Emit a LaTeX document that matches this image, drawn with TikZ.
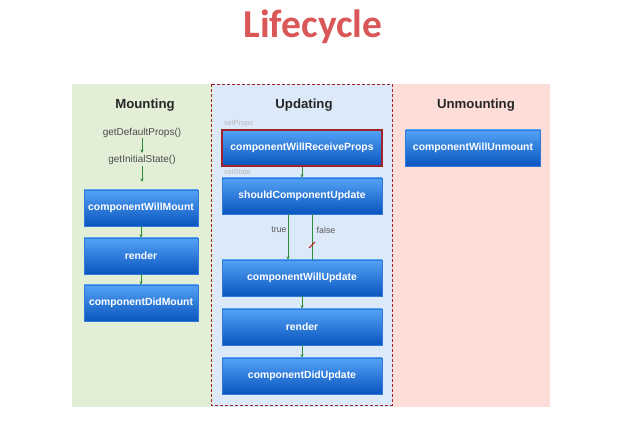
\documentclass[tikz,border=0pt]{standalone}
\usepackage{fontspec}
\setmainfont{Liberation Sans}
\newfontfamily\titlefont{Carlito}
\usetikzlibrary{arrows.meta}
\definecolor{mgreen}{HTML}{E3EED6}
\definecolor{ublue}{HTML}{DCE9F8}
\definecolor{upink}{HTML}{FCDDD8}
\definecolor{boxtop}{HTML}{54A2F6}
\definecolor{boxbot}{HTML}{0A55BE}
\definecolor{boxedge}{HTML}{2F7AD8}
\definecolor{titlered}{HTML}{D95757}
\definecolor{dashred}{HTML}{A0222A}
\definecolor{arrgreen}{HTML}{2E8B3A}
\tikzset{
  x=1pt,y=-1pt,
  lcbox/.style={rectangle, minimum height=36pt, top color=boxtop, bottom color=boxbot, draw=boxedge, line width=0.4pt, text=white, font=\bfseries\fontsize{10.4}{12}\selectfont, inner sep=0pt},
  header/.style={font=\bfseries\fontsize{13.2}{15}\selectfont, text=black!85},
  fnlabel/.style={font=\fontsize{10}{12}\selectfont, text=black!70},
  small/.style={font=\fontsize{7.3}{8}\selectfont, text=black!28, anchor=west, inner sep=0pt},
  flow/.style={-{Stealth[length=3.5pt,width=3pt]}, arrgreen, line width=0.7pt},
  tf/.style={font=\fontsize{8.8}{10}\selectfont, text=black!65}
}
\begin{document}
\begin{tikzpicture}
\useasboundingbox (0,0) rectangle (630,427);
\fill[white] (0,0) rectangle (630,427);
% panels
\fill[mgreen] (72,84) rectangle (213,407);
\fill[ublue] (213,84) rectangle (392,407);
\fill[upink] (392,84) rectangle (550,407);
\draw[dashred, line width=0.8pt, dash pattern=on 3pt off 2pt] (211,84) rectangle (392,405);
% title
\node[font=\titlefont\bfseries\fontsize{39.5}{42}\selectfont, text=titlered] (title) at (313,27) {Lifecycle};
% headers
\node[header] (hm) at (145,105) {Mounting};
\node[header] (hu) at (304,105) {Updating};
\node[header] (hx) at (476,105) {Unmounting};
% mounting
\node[fnlabel] (gdp) at (142,133) {getDefaultProps()};
\node[fnlabel] (gis) at (142,160) {getInitialState()};
\node[lcbox, minimum width=114pt] (cwm) at (141,208) {componentWillMount};
\node[lcbox, minimum width=114pt] (mr) at (141,256) {render};
\node[lcbox, minimum width=114pt] (cdm) at (141,303) {componentDidMount};
\coordinate (a1) at (142,138);
\coordinate (a2) at (142,153);
\coordinate (a3) at (142,166);
\coordinate (a4) at (142,182);
\draw[flow] (a1) -- (a2);
\draw[flow] (a3) -- (a4);
\draw[flow] (cwm.south) -- (mr.north);
\draw[flow] (mr.south) -- (cdm.north);
% updating
\node[small] (sp) at (224,124) {setProps};
\node[lcbox, minimum width=160pt, draw=dashred, line width=1.4pt] (cwrp) at (302,148) {componentWillReceiveProps};
\node[small] (ss) at (224,172) {setState};
\node[lcbox, minimum width=160pt] (scu) at (302,196) {shouldComponentUpdate};
\node[lcbox, minimum width=160pt] (cwu) at (302,278) {componentWillUpdate};
\node[lcbox, minimum width=160pt] (ur) at (302,327) {render};
\node[lcbox, minimum width=160pt] (cdu) at (302,376) {componentDidUpdate};
\draw[flow] (cwrp.south) -- (scu.north);
\draw[flow] (scu.south -| 288,0) -- (cwu.north -| 288,0);
\draw[arrgreen, line width=0.7pt] (scu.south -| 312,0) -- (cwu.north -| 312,0);
\draw[red!80!black, line width=0.9pt] (309,248) -- (315,242);
\node[tf] (tl) at (279,230) {true};
\node[tf] (fl) at (326,230) {false};
\draw[flow] (cwu.south) -- (ur.north);
\draw[flow] (ur.south) -- (cdu.north);
% unmounting
\node[lcbox, minimum width=135pt] (cwum) at (473,148) {componentWillUnmount};
\end{tikzpicture}
\end{document}
